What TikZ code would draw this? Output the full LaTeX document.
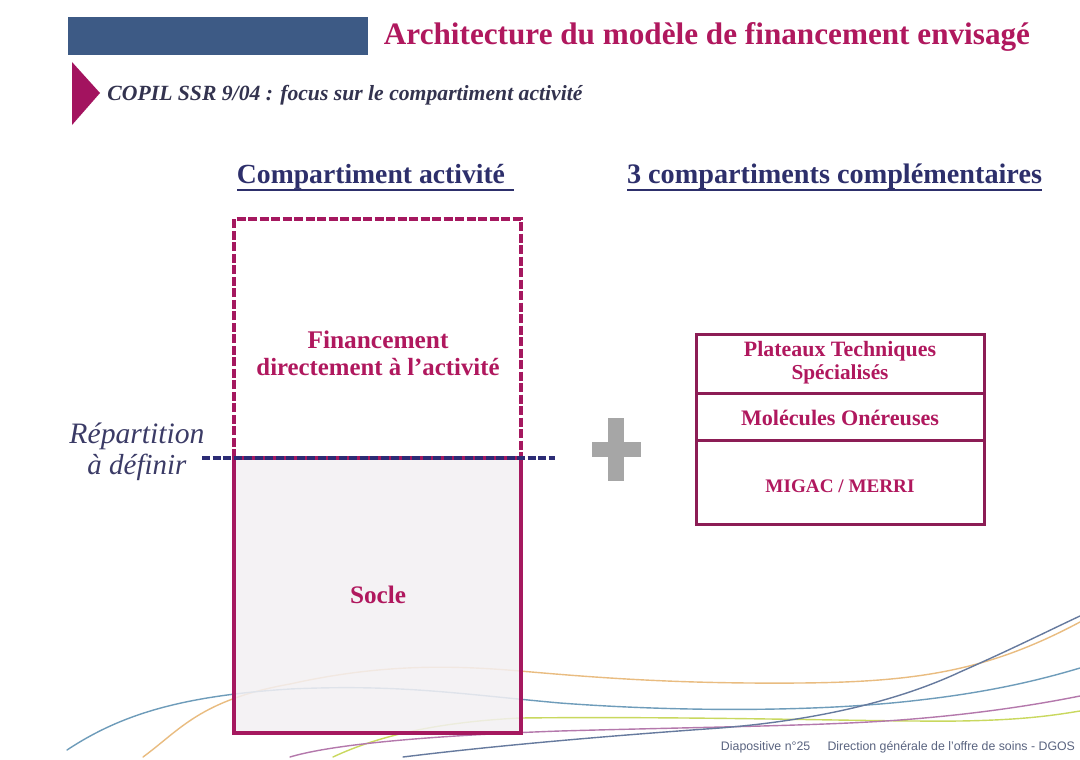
\documentclass[tikz,border=0pt]{standalone}
\usepackage{fontspec}
\setmainfont{Liberation Serif}
\setsansfont{Liberation Sans}
\usepackage{graphicx}

% slide palette
\definecolor{bannerblue}{HTML}{3D5A85}
\definecolor{plum}{HTML}{A3135F}
\definecolor{magtext}{HTML}{B0185E}
\definecolor{subgrey}{HTML}{33334F}
\definecolor{headnavy}{HTML}{2D2F6B}
\definecolor{boxline}{HTML}{A5185F}
\definecolor{rboxline}{HTML}{8C1D55}
\definecolor{soclefill}{HTML}{F3F0F3}
\definecolor{splitnavy}{HTML}{2C2C75}
\definecolor{plusgrey}{HTML}{A6A6A6}
\definecolor{labelnavy}{HTML}{3B3B66}
\definecolor{footgrey}{HTML}{5A6480}
\definecolor{waveblue}{HTML}{6E9CBA}
\definecolor{waveorange}{HTML}{E9BC80}
\definecolor{wavelime}{HTML}{C9D85E}
\definecolor{wavepink}{HTML}{B478AC}
\definecolor{wavedark}{HTML}{667A9E}

% scale a single line of text to a given width (in pt)
\newcommand\fitw[2]{\resizebox{#1pt}{!}{#2}}

\tikzset{
  wave/.style={line width=1.4pt, line cap=round},
  titletext/.style={inner sep=0pt, text=magtext, font=\bfseries},
  subtext/.style={inner sep=0pt, text=subgrey, font=\bfseries\itshape},
  headtext/.style={inner sep=0pt, text=headnavy, font=\bfseries},
  headrule/.style={headnavy, line width=1.3pt},
  boxtext/.style={inner sep=0pt, text=magtext, font=\bfseries},
  rtext/.style={inner sep=0pt, text=magtext, font=\bfseries},
  actline/.style={boxline, line width=3.2pt},
  rbox/.style={rboxline, line width=3pt},
  sidetext/.style={inner sep=0pt, text=labelnavy, font=\itshape},
}

\begin{document}
\begin{tikzpicture}[x=1pt,y=-1pt]
\useasboundingbox (0,0) rectangle (1080,760);
\fill[white] (0,0) rectangle (1080,760);

% decorative waves along the bottom
\draw[wave, waveorange] (143,757) .. controls (180,730) and (200,700) .. (290,684)
  .. controls (380,664) and (450,665) .. (520,671)
  .. controls (600,678) and (680,684) .. (800,683)
  .. controls (920,682) and (990,670) .. (1080,622);
\draw[wave, waveblue] (67,750) .. controls (120,715) and (180,696) .. (290,689)
  .. controls (400,684) and (460,694) .. (560,703)
  .. controls (680,712) and (820,712) .. (920,700)
  .. controls (990,692) and (1040,680) .. (1080,668);
\draw[wave, wavelime] (333,757) .. controls (380,735) and (440,722) .. (520,718)
  .. controls (700,716) and (880,722) .. (960,721)
  .. controls (1020,720) and (1050,716) .. (1080,711);
\draw[wave, wavepink] (290,757) .. controls (330,745) and (420,736) .. (560,731)
  .. controls (700,727) and (820,726) .. (900,720)
  .. controls (980,714) and (1040,704) .. (1080,696);
\draw[wave, wavedark] (403,757) .. controls (500,745) and (620,735) .. (720,728)
  .. controls (820,720) and (900,700) .. (960,672)
  .. controls (1010,650) and (1050,630) .. (1080,616);

% header band
\fill[bannerblue] (68,17) rectangle (368,55);
\node[titletext] (title) at (707,37) {\fitw{646}{Architecture du modèle de financement envisagé}};
\fill[plum] (72,62) -- (100,93) -- (72,125) -- cycle;
\node[subtext] (subtitle) at (345,95) {\fitw{475}{COPIL SSR 9/04 : focus sur le compartiment activité}};

% column headings
\node[headtext] (hact) at (371,177) {\fitw{268}{Compartiment activité}};
\draw[headrule] (237,190) -- (514,190);
\node[headtext] (hcomp) at (834.5,177) {\fitw{415}{3 compartiments complémentaires}};
\draw[headrule] (627,190) -- (1042,190);

% activity compartment: base (solid) and activity share (dashed)
\fill[soclefill, fill opacity=0.85] (234,458) rectangle (521,733);
\draw[actline] (234,458) rectangle (521,733);
\draw[actline, dash pattern=on 9pt off 2.5pt] (234,458) -- (234,219) -- (521,219) -- (521,458);
\node[boxtext] (fin1) at (378,340) {\fitw{141}{Financement}};
\node[boxtext] (fin2) at (378,367) {\fitw{243}{directement à l'activité}};
\node[boxtext] (socle) at (378,595) {\fitw{56}{Socle}};

% adjustable split line
\draw[splitnavy, line width=3.6pt, dash pattern=on 8pt off 2.5pt] (202,458) -- (555,458);
\node[sidetext] (split1) at (137,436) {\fitw{135}{Répartition}};
\node[sidetext] (split2) at (137,467) {\fitw{99}{à définir}};

% plus sign
\fill[plusgrey] (608,418) rectangle (624,481);
\fill[plusgrey] (592,442) rectangle (641,457);

% complementary compartments
\draw[rbox] (696,334) rectangle (984,524);
\draw[rbox] (696,393) -- (984,393);
\draw[rbox] (696,440) -- (984,440);
\node[rtext] (plat1) at (840,351) {\fitw{192}{Plateaux Techniques}};
\node[rtext] (plat2) at (840,374) {\fitw{97}{Spécialisés}};
\node[rtext] (molecules) at (840,418) {\fitw{198}{Molécules Onéreuses}};
\node[rtext] (migac) at (840,486) {\fitw{149}{MIGAC / MERRI}};

% footer
\node[inner sep=0pt, text=footgrey, font=\sffamily] (foot) at (898,747)
  {\fitw{354}{Diapositive n°25\hspace{1.4em}Direction générale de l'offre de soins - DGOS}};
\end{tikzpicture}
\end{document}
